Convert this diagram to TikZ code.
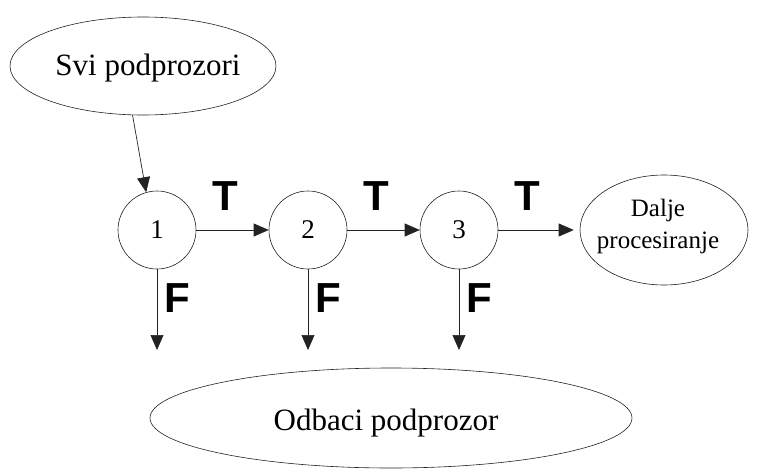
\documentclass[tikz,border=0pt]{standalone}
\usepackage{fontspec}
\setmainfont{Liberation Serif}
\newfontfamily\labelfont{Liberation Sans}
\usepackage{tikz}
\usetikzlibrary{positioning,shapes,arrows.meta,calc}
\definecolor{inkgray}{HTML}{222222}

\tikzset{
  oval/.style={ellipse, draw=inkgray, line width=0.6pt, inner sep=0pt},
  stage/.style={circle, draw=inkgray, line width=0.6pt, minimum size=78pt, inner sep=0pt,
    font=\fontsize{27}{30}\selectfont},
  flow/.style={draw=inkgray, line width=0.7pt, -{Triangle[length=15pt,width=13pt]}},
  tf/.style={font=\labelfont\bfseries\fontsize{42}{46}\selectfont}
}

\begin{document}
\begin{tikzpicture}[x=1pt,y=-1pt]
  \useasboundingbox (0,0) rectangle (758,471);
  \node[oval, minimum width=266pt, minimum height=98pt] (svi) at (143,66) {};
  \node[font=\fontsize{31}{37}\selectfont] at (148,68) {Svi podprozori};
  \node[oval, minimum width=168pt, minimum height=110pt] (dalje) at (664,230) {};
  \node[font=\fontsize{25}{32}\selectfont, align=center] at (658,226) {Dalje\\procesiranje};
  \node[oval, minimum width=482pt, minimum height=100pt] (odbaci) at (391,418) {};
  \node[font=\fontsize{31}{37}\selectfont] at (386,423) {Odbaci podprozor};
  \coordinate (din) at ($(dalje.west)+(-6,0)$);
  \foreach \i/\x in {1/157,2/308,3/459}
  {
    \node[stage] (c\i) at (\x,230) {\i};
    \coordinate (f\i) at (\x,350);
    \draw[flow] (c\i.south) -- (f\i);
    \node[tf] at (\x+20,298) {F};
    \node[tf] at (\x+68,196) {T};
  }
  \draw[flow] (svi.-102) -- (c1.106);
  \draw[flow] (c1.east) -- (c2.west);
  \draw[flow] (c2.east) -- (c3.west);
  \draw[flow] (c3.east) -- (din);
\end{tikzpicture}
\end{document}
